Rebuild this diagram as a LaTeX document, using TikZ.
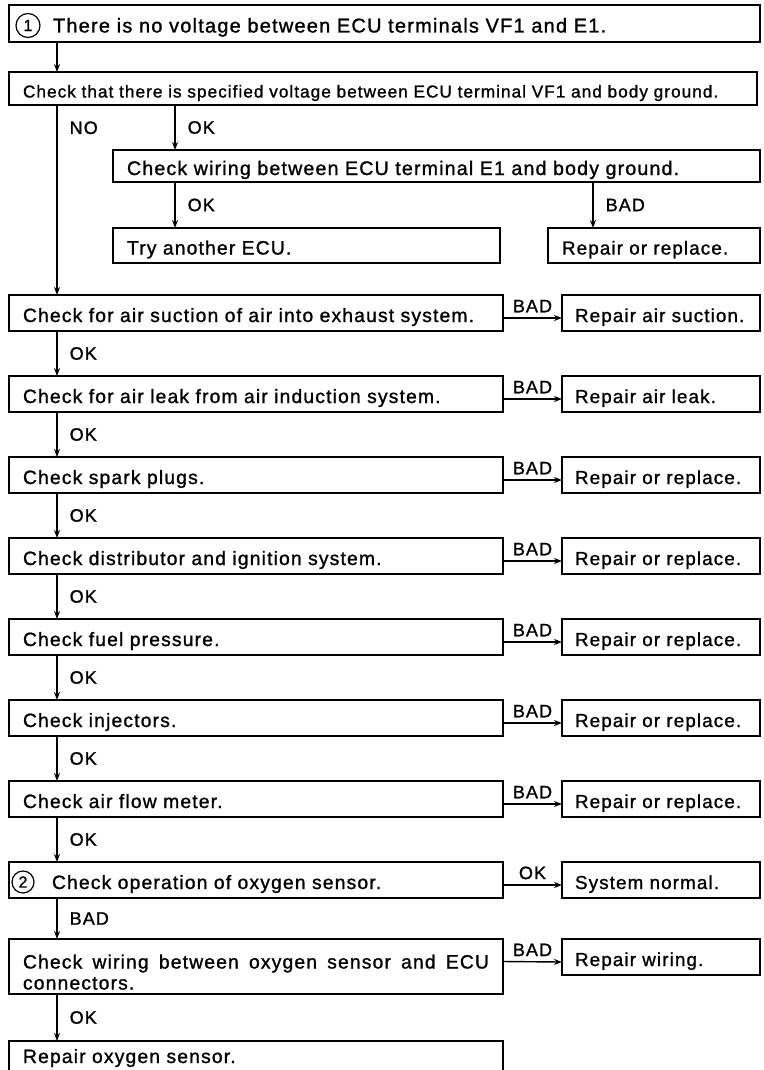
\documentclass[tikz,border=0pt]{standalone}
\usepackage{fontspec}
\setmainfont{Liberation Sans}[LetterSpace=6, FakeBold=1.2]
\usetikzlibrary{positioning, arrows.meta, calc}

\begin{document}
\begin{tikzpicture}[x=1pt, y=-1pt, >={Stealth[length=8pt, width=6pt]},
    box/.style={draw, line width=1.8pt, anchor=north west, align=left, outer sep=0pt,
      inner xsep=14pt, inner ysep=0pt, text height=18pt, text depth=0pt,
      font=\fontsize{19.3}{21}\selectfont},
    chk/.style={box, text width=466pt, minimum height=36pt},
    fix/.style={box, inner xsep=13pt, text width=172pt, minimum height=36pt,
      font=\fontsize{18.8}{21}\selectfont},
    num/.style={draw, circle, line width=1.2pt, inner sep=0pt, minimum size=22pt,
      font=\fontsize{16}{16}\selectfont},
    lbl/.style={inner sep=1pt, font=\fontsize{18}{20}\selectfont},
    arr/.style={->, line width=1.4pt}]
  \useasboundingbox (0,0) rectangle (763,1070);
  \coordinate (xa) at (57,0);
  \coordinate (xc) at (175,0);
  \coordinate (xe) at (593,0);
  % first checks
  \node[box, text width=723pt, minimum height=37pt, font=\fontsize{20}{21}\selectfont] (a) at (9,5)
    {\hspace*{30pt}There is no voltage between ECU terminals VF1 and E1.};
  \node[num, minimum size=24pt] (n1) at ([xshift=19pt, yshift=-2pt]a.west) {1};
  \node[box, text width=720pt, minimum height=33pt, font=\fontsize{17.2}{19}\selectfont] (b) at (9,72)
    {Check that there is specified voltage between ECU terminal VF1 and body ground.};
  \node[box, text width=619pt, minimum height=32pt, font=\fontsize{19.6}{21}\selectfont] (c) at (113,150)
    {Check wiring between ECU terminal E1 and body ground.};
  \node[box, text width=359pt, minimum height=35pt] (d) at (113,228) {Try another ECU.};
  \node[box, text width=184pt, minimum height=35pt, font=\fontsize{18.8}{21}\selectfont] (e) at (548,228) {Repair or replace.};
  \draw[arr] (a.south -| xa) -- (b.north -| xa);
  \draw[arr] (b.south -| xc) -- node[lbl, right=11pt]{OK} (c.north -| xc);
  \draw[arr] (c.south -| xc) -- node[lbl, right=11pt]{OK} (d.north -| xc);
  \draw[arr] (c.south -| xe) -- node[lbl, right=11pt]{BAD} (e.north -| xe);
  % main column
  \node[chk] (s1) at (9,295) {Check for air suction of air into exhaust system.};
  \node[fix, right=59pt of s1] (f1) {Repair air suction.};
  \node[chk, below=45pt of s1] (s2) {Check for air leak from air induction system.};
  \node[fix, right=59pt of s2] (f2) {Repair air leak.};
  \node[chk, below=45pt of s2] (s3) {Check spark plugs.};
  \node[fix, right=59pt of s3] (f3) {Repair or replace.};
  \node[chk, below=45pt of s3] (s4) {Check distributor and ignition system.};
  \node[fix, right=59pt of s4] (f4) {Repair or replace.};
  \node[chk, below=45pt of s4] (s5) {Check fuel pressure.};
  \node[fix, right=59pt of s5] (f5) {Repair or replace.};
  \node[chk, below=45pt of s5] (s6) {Check injectors.};
  \node[fix, right=59pt of s6] (f6) {Repair or replace.};
  \node[chk, below=45pt of s6] (s7) {Check air flow meter.};
  \node[fix, right=59pt of s7] (f7) {Repair or replace.};
  \node[chk, below=45pt of s7] (s8) {\hspace*{29pt}Check operation of oxygen sensor.};
  \node[num] (n2) at ([xshift=14pt, yshift=-2pt]s8.west) {2};
  \node[fix, right=59pt of s8] (f8) {System normal.};
  \node[chk, below=41pt of s8, minimum height=55pt, align=justify, text height=25pt, text depth=21pt] (s9)
    {Check wiring between oxygen sensor and ECU \mbox{connectors.}};
  \node[fix, right=59pt of s9.north east, anchor=north west] (f9) {Repair wiring.};
  \node[chk, below=47pt of s9, text depth=10pt] (s10) {Repair oxygen sensor.};
  % connectors
  \draw[arr] (b.south -| xa) -- node[lbl, pos=0.12, right=11pt]{NO} (s1.north -| xa);
  \draw[arr] (s1.south -| xa) -- node[lbl, right=11pt]{OK} (s2.north -| xa);
  \draw[arr] (s2.south -| xa) -- node[lbl, right=11pt]{OK} (s3.north -| xa);
  \draw[arr] (s3.south -| xa) -- node[lbl, right=11pt]{OK} (s4.north -| xa);
  \draw[arr] (s4.south -| xa) -- node[lbl, right=11pt]{OK} (s5.north -| xa);
  \draw[arr] (s5.south -| xa) -- node[lbl, right=11pt]{OK} (s6.north -| xa);
  \draw[arr] (s6.south -| xa) -- node[lbl, right=11pt]{OK} (s7.north -| xa);
  \draw[arr] (s7.south -| xa) -- node[lbl, right=11pt]{OK} (s8.north -| xa);
  \draw[arr] (s8.south -| xa) -- node[lbl, right=11pt]{BAD} (s9.north -| xa);
  \draw[arr] (s9.south -| xa) -- node[lbl, right=11pt]{OK} (s10.north -| xa);
  \draw[arr] ([yshift=-5pt]s1.east) -- node[lbl, above=4pt]{BAD} ([yshift=-5pt]f1.west);
  \draw[arr] ([yshift=-5pt]s2.east) -- node[lbl, above=4pt]{BAD} ([yshift=-5pt]f2.west);
  \draw[arr] ([yshift=-5pt]s3.east) -- node[lbl, above=4pt]{BAD} ([yshift=-5pt]f3.west);
  \draw[arr] ([yshift=-5pt]s4.east) -- node[lbl, above=4pt]{BAD} ([yshift=-5pt]f4.west);
  \draw[arr] ([yshift=-5pt]s5.east) -- node[lbl, above=4pt]{BAD} ([yshift=-5pt]f5.west);
  \draw[arr] ([yshift=-5pt]s6.east) -- node[lbl, above=4pt]{BAD} ([yshift=-5pt]f6.west);
  \draw[arr] ([yshift=-5pt]s7.east) -- node[lbl, above=4pt]{BAD} ([yshift=-5pt]f7.west);
  \draw[arr] ([yshift=-5pt]s8.east) -- node[lbl, above=4pt]{OK} ([yshift=-5pt]f8.west);
  \draw[arr] ([yshift=5pt]s9.east) -- node[lbl, above=4pt]{BAD} ([yshift=-5pt]f9.west);
\end{tikzpicture}
\end{document}
